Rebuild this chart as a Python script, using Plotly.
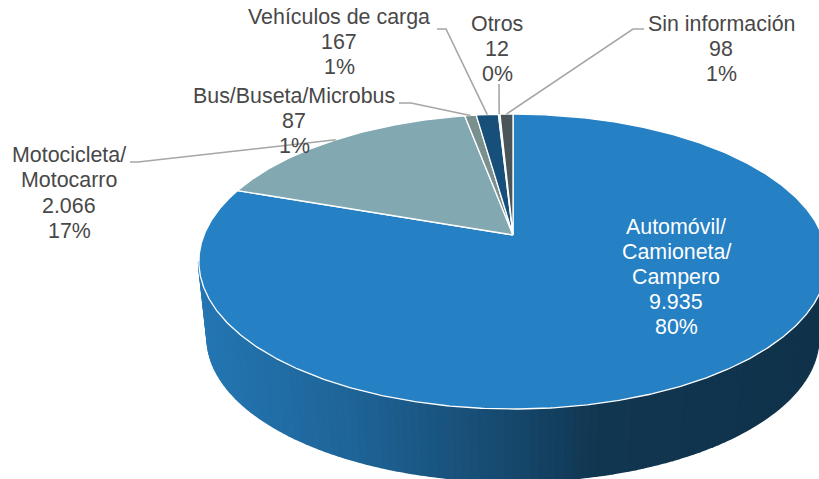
import numpy as np
import plotly.graph_objects as go

# --- data ---
categories = [["Automóvil/", "Camioneta/", "Campero"], ["Motocicleta/", "Motocarro"],
              ["Bus/Buseta/Microbus"], ["Vehículos de carga"], ["Otros"], ["Sin información"]]
values = [9935, 2066, 87, 167, 12, 98]
value_labels = ["9.935", "2.066", "87", "167", "12", "98"]
percent_labels = ["80%", "17%", "1%", "1%", "0%", "1%"]

# --- style ---
slice_colors = ["#2580C4", "#82A8B2", "#79908F", "#164F7A", "#DCE6EA", "#4A5559"]
label_colors = ["#FFFFFF", "#484848", "#484848", "#484848", "#484848", "#484848"]
label_centers = [(676, 277), (69, 193), (294, 121), (339, 42), (497, 49), (721, 49)]
leader_elbows = [None, [(130, 162), (138, 162)], [(399, 103), (411, 103)],
                 [(437, 29), (446, 29)], [(499, 84)], [(644, 29), (633, 29)]]
side_x = [199, 350, 500, 600, 827]
side_rgb = [(36, 118, 178), (30, 100, 152), (22, 74, 112), (17, 54, 80), (16, 50, 75)]
LINE_STEP = 25.2
FONT_SIZE = 21.4

# --- tilted-disc projection (pixel axes) ---
CX, CY, A, K, C = 513.0, 235.0, 142.7, 309.0, 0.18
S, BOTTOM_Y = 0.973, 312.0


def rim(theta, bottom=False):
    u, v = np.sin(theta), np.cos(theta)
    d = 1 + C * v
    if bottom:
        return CX + S * K * u / d, BOTTOM_Y - S * A * v / d
    return CX + K * u / d, CY - A * v / d


fig = go.Figure()

# side wall, as thin strips with a horizontal shading
start, end = np.arccos(-C), 2 * np.pi - np.arccos(-C)
edges = np.linspace(start, end, 121)
for t0, t1 in zip(edges[:-1], edges[1:]):
    ts = np.linspace(t0, t1, 3)
    xt, yt = rim(ts)
    xb, yb = rim(ts[::-1], bottom=True)
    xm = rim((t0 + t1) / 2)[0]
    rgb = [np.interp(xm, side_x, [c[i] for c in side_rgb]) for i in range(3)]
    col = f"rgb({rgb[0]:.0f},{rgb[1]:.0f},{rgb[2]:.0f})"
    fig.add_trace(go.Scatter(x=np.r_[xt, xb], y=np.r_[yt, yb], mode="lines", fill="toself",
                             fillcolor=col, line=dict(color=col, width=2), hoverinfo="skip",
                             showlegend=False))

# top face: slices clockwise from 12 o'clock
total = sum(values)
cum = np.r_[0, np.cumsum(values)] / total * 2 * np.pi
for i in range(len(values)):
    ts = np.linspace(cum[i], cum[i + 1], max(3, int((cum[i + 1] - cum[i]) * 120)))
    x, y = rim(ts)
    fig.add_trace(go.Scatter(x=np.r_[CX, x, CX], y=np.r_[CY, y, CY], mode="lines", fill="toself",
                             fillcolor=slice_colors[i], line=dict(color="#FFFFFF", width=1.3),
                             hoverinfo="skip", showlegend=False))

# leader lines, ending on each slice's rim midpoint
for i, elbow in enumerate(leader_elbows):
    if elbow is None:
        continue
    ex, ey = rim((cum[i] + cum[i + 1]) / 2)
    fig.add_trace(go.Scatter(x=[p[0] for p in elbow] + [ex], y=[p[1] for p in elbow] + [ey],
                             mode="lines", line=dict(color="#A6A6A6", width=1.6),
                             hoverinfo="skip", showlegend=False))

# labels: one annotation per line for the tight line spacing
for i, name in enumerate(categories):
    lines = name + [value_labels[i], percent_labels[i]]
    for j, line in enumerate(lines):
        fig.add_annotation(x=label_centers[i][0],
                           y=label_centers[i][1] + (j - (len(lines) - 1) / 2) * LINE_STEP,
                           text=line, showarrow=False, xanchor="center", yanchor="middle",
                           font=dict(family="Liberation Sans", size=FONT_SIZE, color=label_colors[i]))

fig.update_layout(width=819, height=479, margin=dict(l=0, r=0, t=0, b=0),
                  paper_bgcolor="#FFFFFF", plot_bgcolor="#FFFFFF", showlegend=False,
                  xaxis=dict(range=[0, 819], visible=False, fixedrange=True),
                  yaxis=dict(range=[479, 0], visible=False, fixedrange=True))
fig.write_html("out.html", config=dict(displayModeBar=False),
               post_script="document.body.style.margin='0';document.body.style.overflow='hidden';")
